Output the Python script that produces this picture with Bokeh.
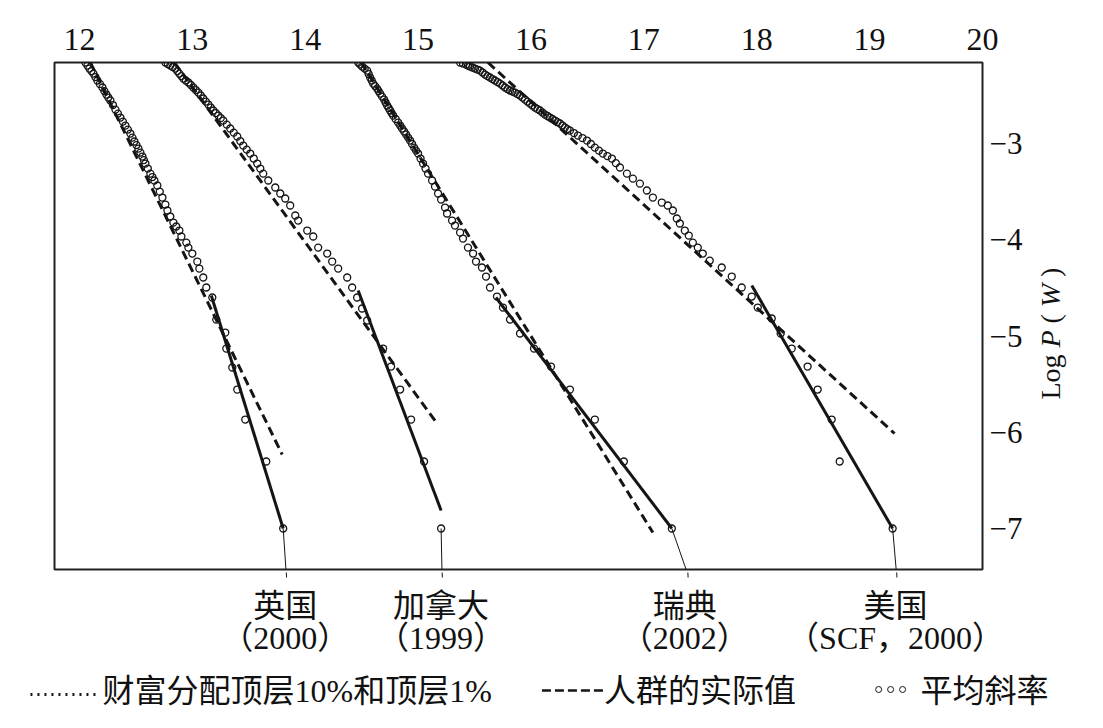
import math
from bokeh.plotting import figure
from bokeh.models import Range1d, FixedTicker
from bokeh.layouts import column, row
from bokeh.core.properties import value
from bokeh.embed import file_html
from bokeh.resources import INLINE

# ---------------- data ----------------
x_ticks = [12, 13, 14, 15, 16, 17, 18, 19, 20]
y_ticks = [-3, -4, -5, -6, -7]
y_tick_labels = ["\u22123", "\u22124", "\u22125", "\u22126", "\u22127"]

# United Kingdom (2000)
uk_x = [12.053, 12.071, 12.088, 12.106, 12.124, 12.141, 12.159, 12.181, 12.204, 12.221, 12.239, 12.256,
        12.274, 12.297, 12.319, 12.341, 12.363, 12.385, 12.407, 12.429, 12.451, 12.469, 12.487, 12.505,
        12.522, 12.540, 12.558, 12.571, 12.584, 12.606, 12.628, 12.646, 12.664, 12.690, 12.712, 12.735,
        12.761, 12.779, 12.805, 12.832, 12.858, 12.885, 12.903, 12.947, 12.965, 13.000, 13.044, 13.062,
        13.097, 13.124, 13.177, 13.212, 13.292, 13.301, 13.354, 13.398, 13.469, 13.655, 13.805]
uk_y = [-2.158, -2.190, -2.221, -2.247, -2.273, -2.309, -2.345, -2.381, -2.418, -2.455, -2.491, -2.522,
        -2.553, -2.600, -2.647, -2.689, -2.730, -2.772, -2.813, -2.855, -2.896, -2.938, -2.979, -3.016,
        -3.052, -3.094, -3.135, -3.172, -3.208, -3.260, -3.312, -3.348, -3.384, -3.436, -3.499, -3.561,
        -3.634, -3.696, -3.758, -3.821, -3.862, -3.904, -3.966, -4.029, -4.081, -4.143, -4.226, -4.299,
        -4.392, -4.496, -4.600, -4.829, -4.964, -5.130, -5.327, -5.556, -5.868, -6.304, -7.000]
uk_dash_x = [12.097, 13.796]
uk_dash_y = [-2.158, -6.231]
uk_fit_x = [13.168, 13.805]
uk_fit_y = [-4.579, -7.000]

# Canada (1999)
ca_x = [12.761, 12.783, 12.805, 12.827, 12.850, 12.867, 12.885, 12.903, 12.920, 12.942, 12.965, 12.987,
        13.009, 13.031, 13.053, 13.075, 13.097, 13.120, 13.142, 13.164, 13.186, 13.208, 13.230, 13.252,
        13.274, 13.305, 13.336, 13.367, 13.398, 13.425, 13.451, 13.482, 13.513, 13.544, 13.575, 13.602,
        13.628, 13.673, 13.735, 13.779, 13.823, 13.867, 13.912, 13.938, 14.018, 14.071, 14.115, 14.195,
        14.239, 14.292, 14.372, 14.416, 14.460, 14.504, 14.549, 14.690, 14.761, 14.841, 14.938, 15.053,
        15.204]
ca_y = [-2.158, -2.174, -2.190, -2.205, -2.221, -2.247, -2.273, -2.299, -2.325, -2.345, -2.366, -2.392,
        -2.418, -2.444, -2.470, -2.501, -2.532, -2.564, -2.595, -2.626, -2.657, -2.683, -2.709, -2.735,
        -2.761, -2.803, -2.844, -2.886, -2.927, -2.974, -3.021, -3.063, -3.104, -3.156, -3.208, -3.260,
        -3.312, -3.384, -3.457, -3.519, -3.571, -3.644, -3.748, -3.800, -3.904, -3.966, -4.081, -4.143,
        -4.226, -4.299, -4.392, -4.496, -4.600, -4.714, -4.839, -5.130, -5.317, -5.556, -5.868, -6.304,
        -7.000]
ca_dash_x = [12.841, 15.168]
ca_dash_y = [-2.158, -5.909]
ca_fit_x = [14.469, 15.204]
ca_fit_y = [-4.527, -6.813]

# Sweden (2002)
se_x = [14.469, 14.487, 14.504, 14.527, 14.549, 14.562, 14.575, 14.589, 14.602, 14.619, 14.637, 14.650,
        14.664, 14.681, 14.699, 14.712, 14.726, 14.739, 14.752, 14.765, 14.779, 14.801, 14.823, 14.841,
        14.858, 14.876, 14.894, 14.912, 14.929, 14.947, 14.965, 14.982, 15.000, 15.022, 15.044, 15.066,
        15.088, 15.124, 15.150, 15.177, 15.204, 15.239, 15.257, 15.301, 15.327, 15.372, 15.398, 15.442,
        15.487, 15.513, 15.566, 15.602, 15.637, 15.699, 15.752, 15.814, 15.903, 16.027, 16.177, 16.345,
        16.566, 16.823, 17.248]
se_y = [-2.158, -2.179, -2.200, -2.221, -2.242, -2.278, -2.314, -2.345, -2.377, -2.403, -2.429, -2.455,
        -2.481, -2.512, -2.543, -2.574, -2.605, -2.631, -2.657, -2.683, -2.709, -2.745, -2.782, -2.813,
        -2.844, -2.875, -2.906, -2.938, -2.969, -3.005, -3.042, -3.073, -3.104, -3.156, -3.208, -3.260,
        -3.312, -3.384, -3.447, -3.519, -3.582, -3.665, -3.727, -3.800, -3.852, -3.925, -3.987, -4.081,
        -4.143, -4.226, -4.288, -4.382, -4.496, -4.590, -4.704, -4.829, -4.974, -5.130, -5.317, -5.556,
        -5.868, -6.304, -7.000]
se_dash_x = [14.496, 17.080]
se_dash_y = [-2.158, -7.042]
se_fit_x = [15.690, 17.248]
se_fit_y = [-4.600, -7.000]

# United States (SCF, 2000)
us_x = [15.372, 15.398, 15.425, 15.442, 15.460, 15.482, 15.504, 15.527, 15.549, 15.571, 15.593, 15.615,
        15.637, 15.659, 15.681, 15.704, 15.726, 15.748, 15.770, 15.792, 15.814, 15.836, 15.858, 15.881,
        15.903, 15.925, 15.947, 15.969, 15.991, 16.013, 16.035, 16.058, 16.080, 16.102, 16.124, 16.146,
        16.168, 16.190, 16.212, 16.235, 16.257, 16.279, 16.301, 16.323, 16.345, 16.381, 16.416, 16.456,
        16.496, 16.531, 16.566, 16.602, 16.637, 16.677, 16.717, 16.752, 16.788, 16.850, 16.903, 16.965,
        17.027, 17.080, 17.159, 17.212, 17.257, 17.292, 17.319, 17.363, 17.398, 17.434, 17.478, 17.522,
        17.584, 17.690, 17.779, 17.867, 17.956, 18.009, 18.133, 18.212, 18.310, 18.451, 18.540, 18.664,
        18.735, 19.204]
us_y = [-2.158, -2.169, -2.179, -2.190, -2.200, -2.210, -2.221, -2.231, -2.242, -2.262, -2.283, -2.299,
        -2.314, -2.330, -2.345, -2.361, -2.377, -2.397, -2.418, -2.434, -2.449, -2.460, -2.470, -2.486,
        -2.501, -2.522, -2.543, -2.564, -2.584, -2.605, -2.626, -2.642, -2.657, -2.678, -2.699, -2.714,
        -2.730, -2.745, -2.761, -2.777, -2.792, -2.813, -2.834, -2.850, -2.865, -2.891, -2.917, -2.943,
        -2.969, -3.005, -3.042, -3.073, -3.104, -3.130, -3.156, -3.203, -3.249, -3.312, -3.364, -3.416,
        -3.488, -3.561, -3.613, -3.644, -3.696, -3.779, -3.831, -3.904, -3.956, -4.029, -4.081, -4.143,
        -4.216, -4.288, -4.382, -4.496, -4.590, -4.704, -4.818, -4.974, -5.130, -5.317, -5.556, -5.868,
        -6.304, -7.000]
us_dash_x = [15.619, 19.221]
us_dash_y = [-2.158, -6.013]
us_fit_x = [17.956, 19.204]
us_fit_y = [-4.475, -7.000]

# leader lines from the last point down to the country labels
leader_x0 = [13.805, 15.204, 17.248, 19.204]
leader_x1 = [13.832, 15.212, 17.389, 19.239]

country_names = ["英国", "加拿大", "瑞典", "美国"]
country_years = ["（2000）", "（1999）", "（2002）", "（SCF，2000）"]
country_label_x = [13.823, 15.204, 17.363, 19.230]

legend_texts = ["财富分配顶层10%和顶层1%", "人群的实际值", "平均斜率"]
legend_text_x = [12.204, 16.646, 19.451]

# ---------------- main figure ----------------
X0, X1 = 11.779, 20.0
Y0, Y1 = -7.426, -2.158
FRAME_W = 928.0
PX = FRAME_W / (X1 - X0)          # pixels per x unit
SERIF = "Liberation Serif"
MIXED = "Liberation Serif, Noto Sans CJK SC"
INK = "#151515"
TXT = "#111111"

p = figure(width=1032, height=572, x_range=Range1d(X0, X1), y_range=Range1d(Y0, Y1),
           x_axis_location="above", y_axis_location="right",
           toolbar_location=None, output_backend="svg",
           min_border_left=54, min_border_right=50, min_border_top=62, min_border_bottom=3)
p.grid.visible = False
p.background_fill_color = "white"
p.border_fill_color = "white"
p.outline_line_color = "#222222"
p.outline_line_width = 2

xa = p.xaxis[0]
xa.ticker = FixedTicker(ticks=x_ticks)
xa.axis_line_color = None
xa.major_tick_in = 0
xa.major_tick_out = 0
xa.minor_tick_line_color = None
xa.major_label_text_font = SERIF
xa.major_label_text_font_size = "32px"
xa.major_label_text_color = TXT
xa.major_label_standoff = 13

ya = p.yaxis[0]
ya.ticker = FixedTicker(ticks=y_ticks)
ya.major_label_overrides = {t: s for t, s in zip(y_ticks, y_tick_labels)}
ya.axis_line_color = None
ya.major_tick_in = 0
ya.major_tick_out = 0
ya.minor_tick_line_color = None
ya.major_label_text_font = SERIF
ya.major_label_text_font_size = "31px"
ya.major_label_text_color = TXT
ya.major_label_standoff = 7

series = [(uk_x, uk_y, uk_dash_x, uk_dash_y, uk_fit_x, uk_fit_y),
          (ca_x, ca_y, ca_dash_x, ca_dash_y, ca_fit_x, ca_fit_y),
          (se_x, se_y, se_dash_x, se_dash_y, se_fit_x, se_fit_y),
          (us_x, us_y, us_dash_x, us_dash_y, us_fit_x, us_fit_y)]

for sx, sy, dx, dy, fx, fy in series:
    p.line(dx, dy, line_color=INK, line_width=3, line_dash="9 5")
    p.scatter(sx, sy, marker="circle", size=7, fill_color=None, line_color=INK, line_width=1.3)
    p.line(fx, fy, line_color=INK, line_width=3)

for a, b in zip(leader_x0, leader_x1):
    p.line([a, b], [-7.0, Y0 - 0.05], line_color=INK, line_width=1)

# ---------------- right strip: y-axis title (P and W italic) ----------------
pr = figure(width=71, height=572, x_range=Range1d(0, 71), y_range=p.y_range,
            x_axis_location=None, y_axis_location=None,
            toolbar_location=None, output_backend="svg",
            min_border_left=0, min_border_right=0, min_border_top=62, min_border_bottom=3)
pr.grid.visible = False
pr.outline_line_color = None
pr.border_fill_color = "white"
title_parts = ["Log", "P", "(", "W", ")"]
title_y = [-5.660, -5.119, -4.870, -4.701, -4.386]
title_style = ["normal", "italic", "normal", "italic", "normal"]
for t, yy, st in zip(title_parts, title_y, title_style):
    pr.text(x=[18], y=[yy], text=[t], angle=math.pi / 2, text_align="left", text_baseline="middle",
            text_font=value(SERIF), text_font_style=st, text_font_size="28px", text_color=TXT)

# ---------------- bottom strip: country labels and legend ----------------
BX0 = X0 - 54 / PX
BX1 = X1 + 121 / PX
pb = figure(width=1103, height=156, x_range=Range1d(BX0, BX1), y_range=Range1d(156, 0),
            x_axis_location=None, y_axis_location=None,
            toolbar_location=None, output_backend="svg",
            min_border_left=0, min_border_right=0, min_border_top=0, min_border_bottom=0)
pb.grid.visible = False
pb.outline_line_color = None
pb.border_fill_color = "white"

for lx in leader_x1:
    pb.line([lx, lx + 0.003], [-2, 5], line_color=INK, line_width=1)

pb.text(x=country_label_x, y=[33] * 4, text=country_names, text_align="center", text_baseline="middle",
        text_font=value(MIXED), text_font_size="32px", text_color=TXT)
pb.text(x=country_label_x, y=[65] * 4, text=country_years, text_align="center", text_baseline="middle",
        text_font=value(MIXED), text_font_size="32px", text_color=TXT)

# legend samples
pb.line([11.566, 12.186], [122, 122], line_color=INK, line_width=3, line_dash="2 5")
pb.line([16.097, 16.664], [118, 118], line_color=INK, line_width=2.5, line_dash="9 4")
pb.scatter([19.080, 19.186, 19.292], [117, 117, 117], marker="circle", size=6,
           fill_color=None, line_color=INK, line_width=1)
pb.text(x=legend_text_x, y=[118] * 3, text=legend_texts, text_align="left", text_baseline="middle",
        text_font=value(MIXED), text_font_size="32px", text_color=TXT)

layout = column(row(p, pr, spacing=0), pb, spacing=0)
open("out.html", "w").write(file_html(layout, INLINE))
